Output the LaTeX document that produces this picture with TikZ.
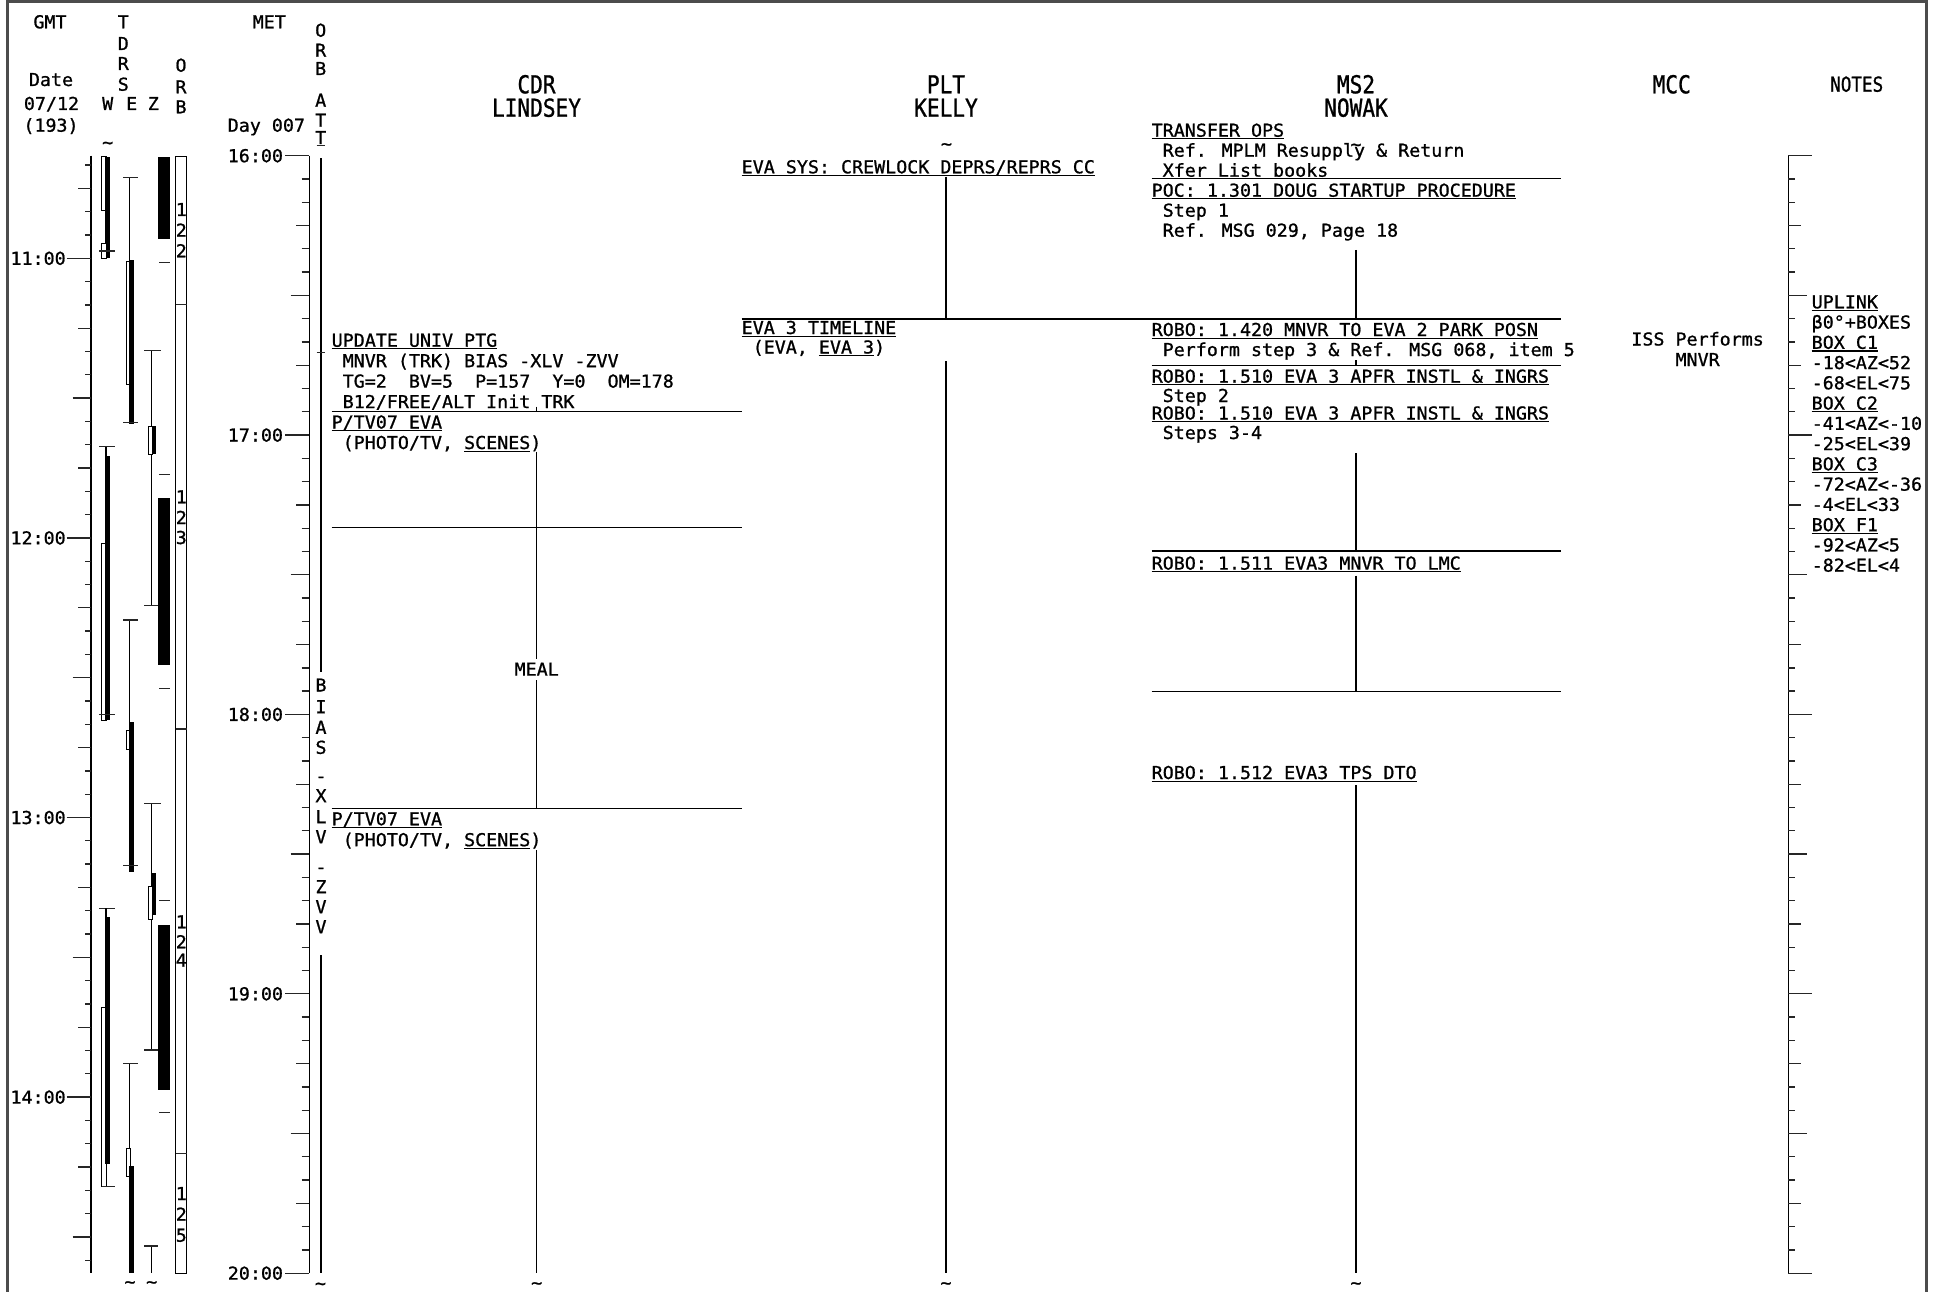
\documentclass[tikz,border=0pt]{standalone}
\usepackage{fontspec}
\setmainfont{DejaVu Sans Mono}[FakeStretch=1.03,FakeBold=1.0]
\newfontfamily\hdfont{DejaVu Sans Mono}[FakeStretch=0.855,FakeBold=1.0]
\newcommand\bodyf{\fontsize{17.8}{20}\selectfont}
\newcommand\hdf{\hdfont\fontsize{24.7}{26}\selectfont}
\newcommand\hdnf{\hdfont\fontsize{20.6}{22}\selectfont}
\newsavebox\ulbox
\newcommand\uln[1]{\sbox\ulbox{#1}\rlap{\rule[-2.7pt]{\wd\ulbox}{1.2pt}}\usebox\ulbox}
\begin{document}
\begin{tikzpicture}[x=1pt,y=-1pt,
  tx/.style={anchor=base west, inner sep=0pt, outer sep=0pt, font=\bodyf},
  tc/.style={anchor=base, inner sep=0pt, outer sep=0pt, font=\bodyf},
  tr/.style={anchor=base east, inner sep=0pt, outer sep=0pt, font=\bodyf},
  hd/.style={anchor=base, inner sep=0pt, outer sep=0pt, font=\hdf},
  axisline/.style={line width=1.4pt, black},
  tickline/.style={line width=1.3pt, black!85},
  actline/.style={line width=1.3pt, black},
  thinline/.style={line width=1.1pt, black},
  frameline/.style={line width=2.6pt, black!70},
  openbar/.style={draw=black, line width=1pt, fill=white},
]
\useasboundingbox (0,0) rectangle (1933,1292);
% frame
\draw[frameline] (7.5,1292) -- (7.5,1.3) -- (1926.7,1.3) -- (1926.7,1292);

% ---------- left headers ----------
\node[tc] (gmt) at (50,28.3) {GMT};
\node[tc] (date) at (51,86) {Date};
\node[tc] (dmy) at (51.5,110) {07/12};
\node[tc] (doy) at (51,131.7) {(193)};
\foreach \c/\y [count=\i] in {T/28.3,D/50,R/70,S/90.7}
  \node[tc] (tdrs\i) at (123.3,\y) {\c};
\node[tc] (wlab) at (107.7,110) {W};
\node[tc] (elab) at (131.7,110) {E};
\node[tc] (zlab) at (153.3,110) {Z};
\foreach \c/\y [count=\i] in {O/71.7,R/93.3,B/113.3}
  \node[tc] (orbl\i) at (181,\y) {\c};
\node[tc] (met) at (269.3,28.3) {MET};
\node[tr] (day) at (305,131.7) {Day 007};
\foreach \c/\y [count=\i] in {O/36.7,R/56.7,B/75,A/106.7,T/126.7,T/144}
  \node[tc] (oatt\i) at (320.7,\y) {\c};
\draw[tickline] (316.5,145.5) -- (325,145.5);
\node[tc] (tldw) at (107.7,148.6) {\textasciitilde};

% ---------- GMT axis ----------
\draw[axisline] (91,155.7) -- (91,1273.3);
\foreach \k in {-4,...,43}{
  \pgfmathtruncatemacro\m{mod(\k+48,12)}
  \pgfmathsetmacro\yy{258.3+\k*23.3}
  \pgfmathsetmacro\xs{\m==0 ? 66.7 : (\m==6 ? 72.7 : (mod(\m,3)==0 ? 78.3 : 85))}
  \draw[tickline] (\xs,\yy) -- (91,\yy);
}
\foreach \h [count=\i from 0] in {11,12,13,14}
  \node[tr] (gmt\h) at (65.7,{258.3+\i*279.6+6.5}) {\h:00};

% ---------- TDRS W ----------
\draw[openbar] (101.7,156.7) rectangle (106,210.7);
\fill (105.3,156.7) rectangle (109.7,258.3);
\draw[openbar] (101.7,243.3) rectangle (106,258.3);
\draw[tickline] (99,251) -- (115,251);
\draw[tickline] (99,446.7) -- (115,446.7);
\draw[thinline] (106,446.7) -- (106,456);
\draw[openbar] (101.7,543.3) rectangle (106,720);
\fill (105.3,456) rectangle (109.7,720);
\draw[tickline] (99,714.3) -- (115,714.3);
\draw[tickline] (99,908.3) -- (115,908.3);
\draw[thinline] (106,908.3) -- (106,917.3);
\draw[openbar] (101.7,1007.7) rectangle (106,1186.7);
\fill (105.3,917.3) rectangle (109.7,1164.3);
\draw[tickline] (101.7,1186.7) -- (115,1186.7);
% ---------- TDRS E ----------
\draw[thinline] (129.3,177.3) -- (129.3,260);
\draw[tickline] (123.3,177.3) -- (138.3,177.3);
\draw[openbar] (126,261.7) rectangle (130,384.3);
\fill (129.3,260) rectangle (133.7,424.3);
\draw[tickline] (123.3,422.7) -- (138.3,422.7);
\draw[thinline] (129.3,620) -- (129.3,722.3);
\draw[tickline] (123.3,620) -- (138.3,620);
\draw[openbar] (126,730.7) rectangle (130,749.3);
\fill (129.3,722.3) rectangle (133.7,871.7);
\draw[tickline] (123.3,865.7) -- (138.3,865.7);
\draw[thinline] (129.3,1063.3) -- (129.3,1166);
\draw[tickline] (123.3,1063.3) -- (138.3,1063.3);
\draw[openbar] (126,1148.3) rectangle (130,1176);
\fill (129.3,1166) rectangle (133.7,1273.3);
\node[tc] (tlde) at (130,1288) {\textasciitilde};
% ---------- TDRS Z ----------
\draw[thinline] (151.7,350.7) -- (151.7,605.7);
\draw[tickline] (144.3,350.7) -- (161,350.7);
\draw[openbar] (148,426) rectangle (152.3,454);
\fill (151.7,426) rectangle (155.7,454);
\draw[tickline] (144.3,605.7) -- (158.3,605.7);
\draw[thinline] (151.7,803.3) -- (151.7,1050);
\draw[tickline] (144.3,803.3) -- (161,803.3);
\draw[openbar] (148,886) rectangle (152.3,919.3);
\fill (151.7,873.3) rectangle (155.7,915);
\draw[tickline] (144.3,1050) -- (158.3,1050);
\draw[thinline] (151.7,1246) -- (151.7,1273.3);
\draw[tickline] (144.3,1246) -- (158.3,1246);
\node[tc] (tldz) at (151.7,1288) {\textasciitilde};

% ---------- orbit night bars / ORB column ----------
\fill (158.3,156.7) rectangle (170,238.7);
\fill (158.3,498.3) rectangle (170,665);
\fill (158.3,925) rectangle (170,1090);
\foreach \y in {262.3,474.3,688.7,900.7,1112.7}
  \draw[tickline] (159,\y) -- (170,\y);
\draw[openbar, line width=1.2pt] (175.7,156.7) rectangle (186.7,1273.3);
\foreach \y in {304.3,729,1153.3}
  \draw[tickline] (175.7,\y) -- (186.7,\y);
\foreach \c/\y [count=\i] in {1/216,2/236.7,2/257.3,1/503.3,2/524,3/544,1/928.3,2/948.3,4/966.7,1/1200,2/1220.7,5/1241.7}
  \node[tc] (orbn\i) at (181.3,\y) {\c};

% ---------- MET axis ----------
\draw[axisline] (309.3,155.7) -- (309.3,1273.3);
\foreach \k in {0,...,48}{
  \pgfmathtruncatemacro\m{mod(\k,12)}
  \pgfmathsetmacro\yy{155.7+\k*23.28}
  \pgfmathsetmacro\xs{\m==0 ? 285 : (\m==6 ? 290.7 : (mod(\m,3)==0 ? 296 : 301.7))}
  \draw[tickline] (\xs,\yy) -- (309.3,\yy);
}
\foreach \h [count=\i from 0] in {16,17,18,19,20}
  \node[tr] (met\h) at (283,{155.7+\i*279.36+6.5}) {\h:00};

% ---------- ORB ATT line ----------
\draw[actline] (321,158.3) -- (321,671.7);
\draw[tickline] (316.7,352.3) -- (325,352.3);
\foreach \c/\y [count=\i] in {B/691.5,I/713.2,A/733.8,S/753.8,-/782.2,X/802.2,L/823.2,V/843.2,-/873.2,Z/893.2,V/913.2,V/933.2}
  \node[tc] (bias\i) at (321,\y) {\c};
\draw[actline] (321,955) -- (321,1273.3);
\node[tc] (tldo) at (320.5,1289.5) {\textasciitilde};

% ---------- column headers ----------
\node[hd] (cdr) at (536.5,93.3) {CDR};
\node[hd] (lindsey) at (536.5,116.7) {LINDSEY};
\node[hd] (plt) at (946,93.3) {PLT};
\node[hd] (kelly) at (946,116.7) {KELLY};
\node[hd] (ms2) at (1356,93.3) {MS2};
\node[hd] (nowak) at (1356,116.7) {NOWAK};
\node[hd] (mcc) at (1671.7,93.3) {MCC};
\node[anchor=base, inner sep=0pt, font=\hdnf] (notes) at (1856.7,91.7) {NOTES};

% ---------- CDR column ----------
\node[tx] (c1) at (331.7,346.7) {\uln{UPDATE UNIV PTG}};
\node[tx] (c2) at (342.7,367.2) {MNVR (TRK) BIAS -XLV -ZVV};
\node[tx] (c3) at (342.7,387.6) {TG=2\ \ BV=5\ \ P=157\ \ Y=0\ \ OM=178};
\node[tx] (c4) at (342.7,408.1) {B12/FREE/ALT Init TRK};
\draw[actline] (331.7,411.7) -- (741.7,411.7);
\draw[actline] (536.7,406.5) -- (536.7,411.7);
\node[tx] (c5) at (331.7,428.5) {\uln{P/TV07 EVA}};
\node[tx] (c6) at (342.7,449) {(PHOTO/TV, \uln{SCENES})};
\draw[actline] (331.7,527.6) -- (741.7,527.6);
\draw[actline] (536.7,451.7) -- (536.7,808.3);
\node[tc, fill=white, inner ysep=4pt] (meal) at (536.7,675.6) {MEAL};
\draw[actline] (331.7,808.3) -- (741.7,808.3);
\node[tx] (c7) at (331.7,825.3) {\uln{P/TV07 EVA}};
\node[tx] (c8) at (342.7,846.2) {(PHOTO/TV, \uln{SCENES})};
\draw[actline] (536.7,850) -- (536.7,1273.3);
\node[tc] (tldc) at (536.7,1289) {\textasciitilde};

% ---------- PLT column ----------
\node[tc] (tldp) at (946.5,150) {\textasciitilde};
\node[tx] (p1) at (741.7,173.3) {\uln{EVA SYS: CREWLOCK DEPRS/REPRS CC}};
\draw[actline] (946,176.7) -- (946,319);
\draw[actline] (741.7,319) -- (1560.7,319);
\node[tx] (p2) at (741.7,334) {\uln{EVA 3 TIMELINE}};
\node[tx] (p3) at (752.7,353.5) {(EVA, \uln{EVA 3})};
\draw[actline] (946,361) -- (946,1273.3);
\node[tc] (tldp2) at (946,1289) {\textasciitilde};

% ---------- MS2 column ----------
\node[tx] (m1) at (1151.7,136.7) {\uln{TRANSFER OPS}};
\node[tx] (m2) at (1162.7,156.7) {Ref. MPLM Resupply \& Return};
\node[tc] (tldm) at (1356,150.5) {\textasciitilde};
\node[tx] (m3) at (1162.7,176.7) {Xfer List books};
\draw[actline] (1151.7,178.3) -- (1560.7,178.3);
\node[tx] (m4) at (1151.7,196.7) {\uln{POC: 1.301 DOUG STARTUP PROCEDURE}};
\node[tx] (m5) at (1162.7,216.7) {Step 1};
\node[tx] (m6) at (1162.7,236.7) {Ref. MSG 029, Page 18};
\draw[actline] (1356,250) -- (1356,319);
\node[tx] (m7) at (1151.7,336) {\uln{ROBO: 1.420 MNVR TO EVA 2 PARK POSN}};
\node[tx] (m8) at (1162.7,356) {Perform step 3 \& Ref. MSG 068, item 5};
\draw[actline] (1356,360) -- (1356,365.7);
\draw[actline] (1151.7,365.7) -- (1560.7,365.7);
\node[tx] (m9) at (1151.7,382.7) {\uln{ROBO: 1.510 EVA 3 APFR INSTL \& INGRS}};
\node[tx] (m10) at (1162.7,402) {Step 2};
\node[tx] (m11) at (1151.7,419.5) {\uln{ROBO: 1.510 EVA 3 APFR INSTL \& INGRS}};
\node[tx] (m12) at (1162.7,439) {Steps 3-4};
\draw[actline] (1356,453.3) -- (1356,551.1);
\draw[actline] (1151.7,551.1) -- (1560.7,551.1);
\node[tx] (m13) at (1151.7,569.6) {\uln{ROBO: 1.511 EVA3 MNVR TO LMC}};
\draw[actline] (1356,575.7) -- (1356,691.6);
\draw[actline] (1151.7,691.6) -- (1560.7,691.6);
\node[tx] (m14) at (1151.7,779) {\uln{ROBO: 1.512 EVA3 TPS DTO}};
\draw[actline] (1356,785.3) -- (1356,1273.3);
\node[tc] (tldm2) at (1356,1289) {\textasciitilde};

% ---------- MCC ----------
\node[tc] (mcc1) at (1697.6,345.5) {ISS Performs};
\node[tc] (mcc2) at (1697.6,366) {MNVR};

% ---------- NOTES axis ----------
\draw[axisline] (1788.3,155.7) -- (1788.3,1273.3);
\foreach \k in {0,...,48}{
  \pgfmathtruncatemacro\m{mod(\k,12)}
  \pgfmathsetmacro\yy{155.7+\k*23.28}
  \pgfmathsetmacro\xe{\m==0 ? 1812.3 : (\m==6 ? 1807.3 : (mod(\m,3)==0 ? 1800.6 : 1795))}
  \draw[tickline] (1788.3,\yy) -- (\xe,\yy);
}
\foreach \t [count=\i from 0] in {\uln{UPLINK},β0°+BOXES,\uln{BOX C1},-18<AZ<52,-68<EL<75,\uln{BOX C2},-41<AZ<-10,-25<EL<39,\uln{BOX C3},-72<AZ<-36,-4<EL<33,\uln{BOX F1},-92<AZ<5,-82<EL<4}
  \node[tx] (nt\i) at (1811.7,{308.3+\i*20.26}) {\t};
\end{tikzpicture}
\end{document}
